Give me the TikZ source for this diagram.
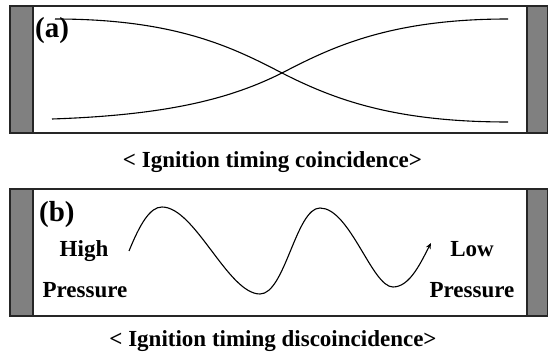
\documentclass[tikz,border=0pt]{standalone}
\usepackage{fontspec}
\setmainfont{Liberation Serif}
\usetikzlibrary{arrows.meta}
\begin{document}
\begin{tikzpicture}[x=1pt,y=-1pt,
  frame/.style={draw=black!85,line width=1.3pt,fill=white},
  wall/.style={draw=black!85,line width=1.3pt,fill=black!50},
  curve/.style={line width=1.1pt,black},
  lbl/.style={font=\bfseries\fontsize{23}{25}\selectfont,anchor=base,inner sep=0pt},
  tag/.style={font=\bfseries\fontsize{29}{31}\selectfont,anchor=base west,inner sep=0pt},
  captxt/.style={font=\bfseries\fontsize{23}{25}\selectfont,anchor=base,inner sep=0pt}]
\useasboundingbox (0,0) rectangle (549,355);
% panel (a)
\draw[frame] (10,6) rectangle (547.5,133);
\draw[wall] (10,6) rectangle (33,133);
\draw[wall] (527,6) rectangle (547.5,133);
\node[tag] (ta) at (35,38) {(a)};
\coordinate (a1) at (55,19);
\coordinate (a2) at (508,122);
\coordinate (b1) at (52,119);
\coordinate (b2) at (508,19);
\coordinate (x) at (282,73);
\draw[curve] (a1) .. controls (175,19) and (232,47) .. (x) .. controls (335,100) and (395,122) .. (a2);
\draw[curve] (b1) .. controls (170,115) and (232,98) .. (x) .. controls (332,47) and (390,19) .. (b2);
\node[captxt] (ca) at (272.5,168) {< Ignition timing coincidence>};
% panel (b)
\draw[frame] (10,189) rectangle (547.5,316);
\draw[wall] (10,189) rectangle (33,316);
\draw[wall] (527,189) rectangle (547.5,316);
\node[tag] (tb) at (39,222) {(b)};
\node[lbl] (hi) at (84,257) {High};
\node[lbl] (hp) at (85,298) {Pressure};
\node[lbl] (lo) at (472,257) {Low};
\node[lbl] (lp) at (472,298) {Pressure};
\coordinate (w0) at (129,251);
\coordinate (w1) at (162,207);
\coordinate (w2) at (260,294);
\coordinate (w3) at (320,208);
\coordinate (w4) at (393,287);
\coordinate (w5) at (431,243);
\draw[curve,-{Stealth[length=6pt,width=5pt]}] (w0) .. controls (140,224) and (150,207) .. (w1)
  .. controls (195,207) and (228,294) .. (w2)
  .. controls (285,294) and (296,208) .. (w3)
  .. controls (350,208) and (372,287) .. (w4)
  .. controls (410,287) and (421,262) .. (w5);
\node[captxt] (cb) at (273,347) {< Ignition timing discoincidence>};
\end{tikzpicture}
\end{document}
